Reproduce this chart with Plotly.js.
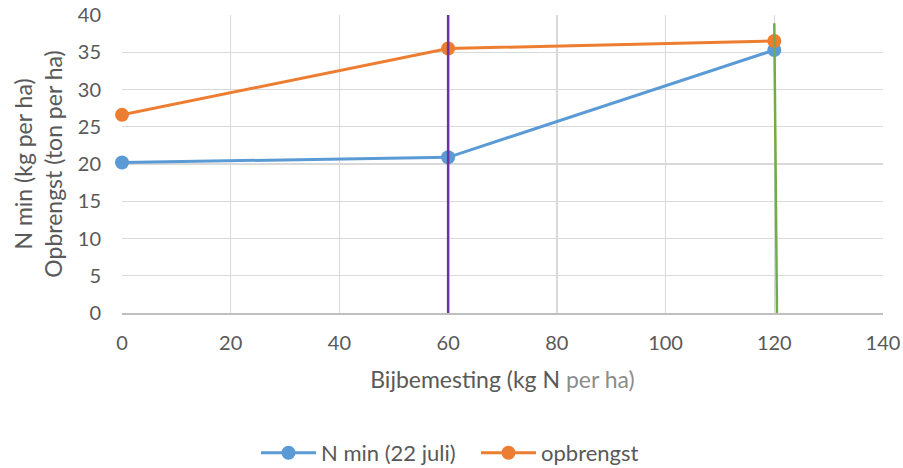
<!DOCTYPE html>
<html>
<head>
<meta charset="utf-8">
<script src="https://cdn.plot.ly/plotly-3.0.1.min.js"></script>
<style>html,body{margin:0;padding:0;background:#fff;}#chart{width:903px;height:468px;}</style>
</head>
<body>
<div id="chart"></div>
<script>
const xValues = [0, 60, 120];
const nMin = [20.2, 20.9, 35.3];
const opbrengst = [26.6, 35.5, 36.5];
const seriesNames = ["N min (22 juli)", "opbrengst"];
const xTicks = [0, 20, 40, 60, 80, 100, 120, 140];
const yTicks = [0, 5, 10, 15, 20, 25, 30, 35, 40];

const FONT = "Lato, 'Open Sans', sans-serif";
const traces = [
  {x: xValues, y: nMin, name: seriesNames[0], mode: "lines+markers", cliponaxis: false,
   line: {color: "#5B9BD5", width: 3}, marker: {color: "#5B9BD5", size: 14}},
  {x: xValues, y: opbrengst, name: seriesNames[1], mode: "lines+markers", cliponaxis: false,
   line: {color: "#ED7D31", width: 3}, marker: {color: "#ED7D31", size: 14}}
];
const layout = {
  width: 903, height: 468,
  margin: {l: 122, r: 20, t: 15, b: 155},
  paper_bgcolor: "#fff", plot_bgcolor: "#fff",
  font: {family: FONT, color: "#595959", size: 20},
  showlegend: true,
  legend: {orientation: "h", xref: "container", yref: "container", x: 0.2835, xanchor: "left", y: 0.032, yanchor: "middle",
           font: {size: 22, color: "#595959"}, itemwidth: 55, entrywidth: 150, entrywidthmode: "pixels",
           bgcolor: "rgba(0,0,0,0)"},
  xaxis: {range: [0, 140], tickvals: xTicks, ticktext: xTicks.map(String),
          showgrid: true, gridcolor: "#d9d9d9", gridwidth: 1.3,
          zeroline: false, showline: true, linecolor: "#bfbfbf", linewidth: 1.5,
          ticks: "", ticklabelstandoff: 11, automargin: false,
          tickfont: {size: 20, color: "#595959"},
          title: {text: "Bijbemesting (kg N <span style='fill:#8c8c8c'>per ha)</span>", font: {size: 23, color: "#595959"}, standoff: 19}},
  yaxis: {range: [0, 40], tickvals: yTicks, ticktext: yTicks.map(String),
          showgrid: true, gridcolor: "#d9d9d9", gridwidth: 1.3,
          zeroline: false, showline: false, ticks: "", ticklabelstandoff: 20, automargin: false,
          tickfont: {size: 20, color: "#595959"},
          title: {text: "N min (kg per ha)<br>Opbrengst (ton per ha)", font: {size: 23, color: "#595959"}, standoff: 8}},
  shapes: [
    {type: "line", xref: "x", yref: "y", x0: 60, x1: 60, y0: -0.7, y1: 40, line: {color: "#7030A0", width: 2.5}},
    {type: "line", xref: "x", yref: "y", x0: 120, x1: 120.5, y0: 38.9, y1: -0.7, line: {color: "#70AD47", width: 2.5}}
  ]
};
Plotly.newPlot("chart", traces, layout, {displayModeBar: false, staticPlot: true});
</script>
</body>
</html>
